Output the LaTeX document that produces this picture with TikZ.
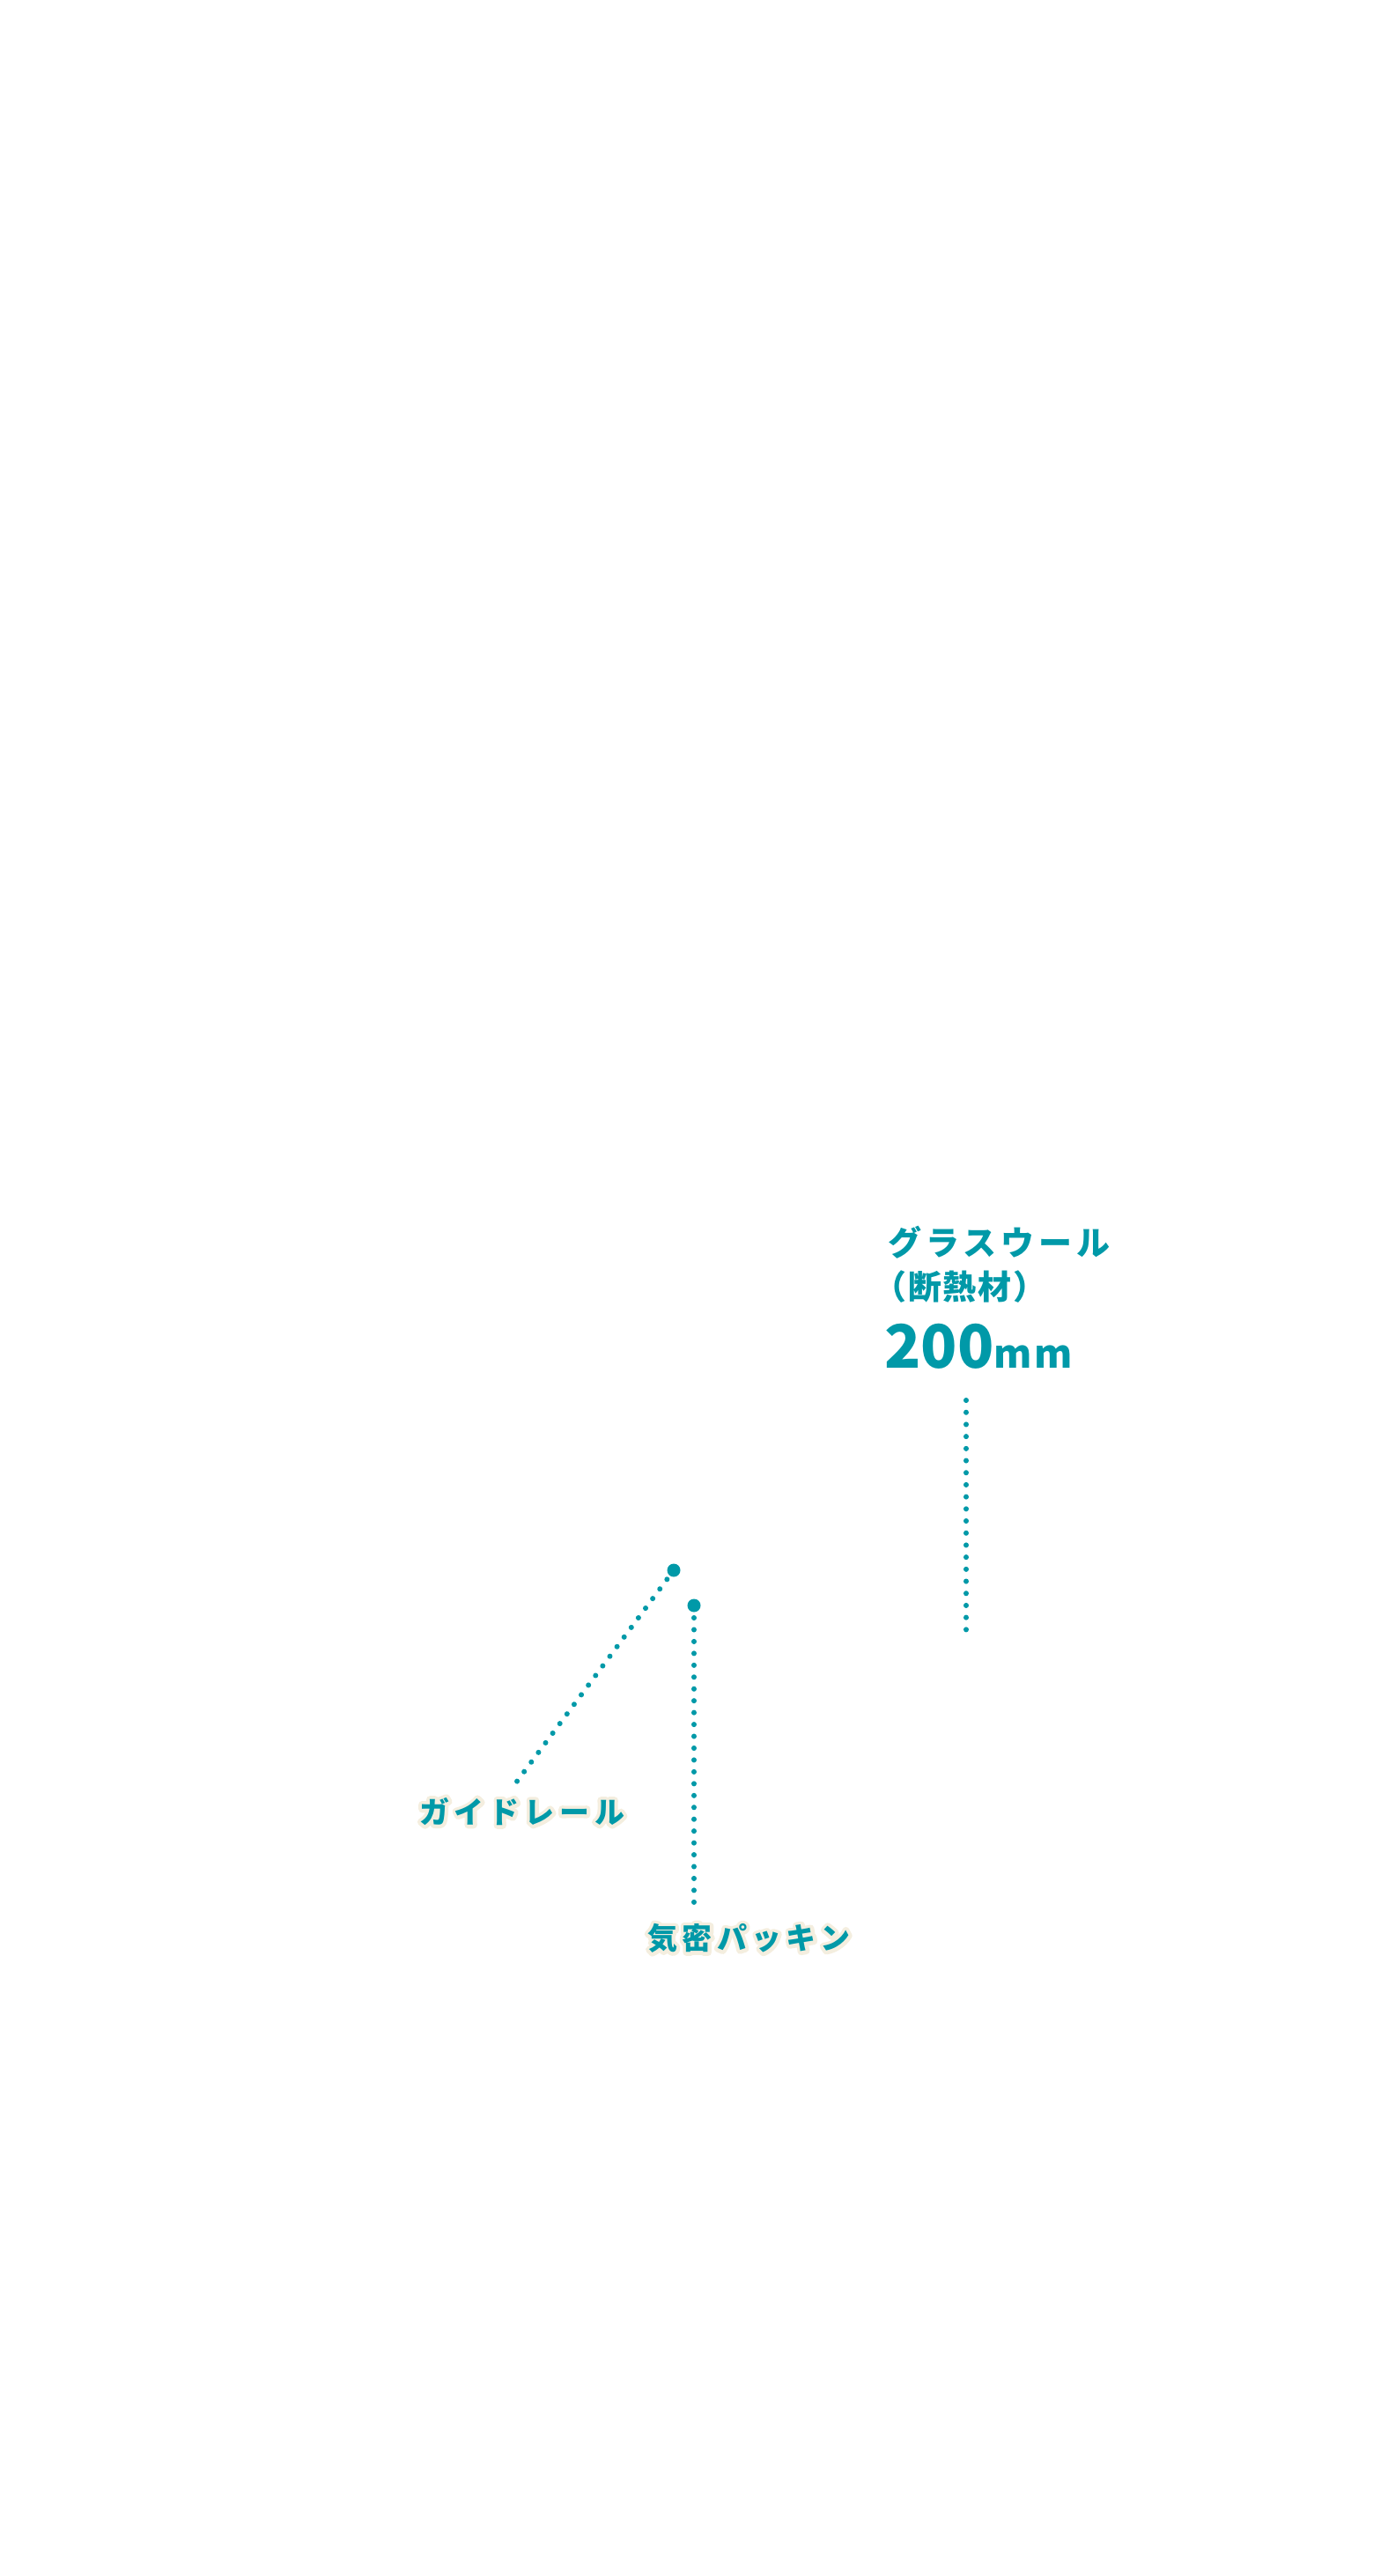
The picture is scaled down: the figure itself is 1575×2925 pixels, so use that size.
\documentclass[tikz,border=0pt]{standalone}
\usepackage{fontspec}
\setmainfont{Noto Sans CJK JP}
\definecolor{teal}{HTML}{0099A8}
\definecolor{halocol}{HTML}{F4EEDF}
\newcommand\halotext[1]{%
  \leavevmode
  \rlap{\color{halocol}\special{pdf:literal direct 1 j 1 J 8 w 2 Tr}#1\special{pdf:literal direct 0 Tr}}%
  #1}
\tikzset{
  dotline/.style={teal, line width=6pt, line cap=round, dash pattern=on 0.05pt off 13.55pt},
  bigdot/.style={circle, fill=teal, inner sep=0pt, minimum size=15pt},
  label/.style={inner sep=0pt, text=teal, font=\bfseries},
}
\begin{document}
\begin{tikzpicture}[x=1pt, y=-1pt]
\useasboundingbox (0,0) rectangle (1575,2925);
% glass wool label
\node[label, anchor=west, font=\bfseries\fontsize{38}{38}\selectfont\addfontfeature{LetterSpace=13}] (gw1) at (1008,1411) {グラスウール};
\node[label, anchor=west, font=\bfseries\fontsize{38}{38}\selectfont\addfontfeature{LetterSpace=5}] (gw2) at (991,1461) {（断熱材）};
\node[label, anchor=base west] (gw3) at (1004,1553) {{\fontsize{68}{68}\selectfont 200}{\fontsize{44}{44}\selectfont\addfontfeature{LetterSpace=6}mm}};
\coordinate (gwtop) at (1097,1590);
\coordinate (gwbot) at (1097,1852);
\draw[dotline, dash pattern=on 0.05pt off 13.65pt] (gwtop) -- (gwbot);
% guide rail
\node[bigdot] (gdot) at (765,1783) {};
\coordinate (gend) at (586,2024);
\draw[dotline, shorten <=12.8pt] (gdot.center) -- (gend);
\node[label, anchor=west, font=\bfseries\fontsize{34}{34}\selectfont\addfontfeature{LetterSpace=17}] (guide) at (476,2057) {\halotext{ガイドレール}};
% airtight packing
\node[bigdot] (pdot) at (788,1823) {};
\coordinate (pend) at (788,2160);
\draw[dotline, shorten <=14pt, dash pattern=on 0.05pt off 13.4pt] (pdot.center) -- (pend);
\node[label, anchor=west, font=\bfseries\fontsize{34}{34}\selectfont\addfontfeature{LetterSpace=16}] (pack) at (735,2201) {\halotext{気密パッキン}};
\end{tikzpicture}
\end{document}
